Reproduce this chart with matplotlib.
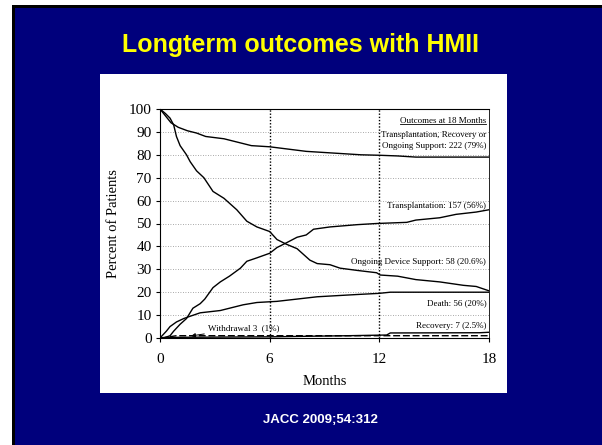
import matplotlib
matplotlib.use("Agg")
import matplotlib.pyplot as plt
from matplotlib.patches import Rectangle
from matplotlib.lines import Line2D

W, H = 602, 445

# outcome curves (months, percent of patients)
support_x = [0, 0.3, 0.6, 1.0, 1.5, 2.0, 2.5, 3.0, 3.5, 4.0, 4.5, 5.0, 6.0, 6.5,
             7.0, 8.0, 9.0, 10.0, 11.0, 12.0, 13.0, 14.0, 15.0, 18.0]
support_y = [100, 97, 94, 92, 90.5, 89.5, 88, 87.5, 87, 86, 85, 84, 83.5, 83,
             82.5, 81.5, 81, 80.5, 80, 79.8, 79.5, 79, 79, 79]

ongoing_x = [0, 0.3, 0.55, 0.75, 0.9, 1.1, 1.45, 1.65, 2.0, 2.4, 2.9, 3.5, 4.2,
             4.75, 5.3, 6.0, 6.4, 6.9, 7.5, 8.2, 8.6, 9.3, 9.85, 10.8, 11.85,
             12.05, 13.0, 14.0, 15.3, 16.6, 17.3, 18.0]
ongoing_y = [100, 98, 96, 93, 88, 84, 80, 77, 73, 70, 64, 61, 56, 51, 48.5, 46.5,
             43, 41, 39, 34, 32.5, 32, 30.5, 29.5, 28.5, 27.5, 27, 25.5, 24.5, 23,
             22.5, 20.6]

transplant_x = [0, 0.2, 0.55, 0.75, 1.1, 1.45, 1.8, 2.2, 2.45, 2.9, 3.3, 3.8, 4.4,
                4.75, 5.3, 6.0, 6.4, 6.9, 7.5, 8.0, 8.4, 9.3, 10.8, 11.85, 13.5,
                14.0, 15.3, 16.2, 17.3, 18.0]
transplant_y = [0, 0, 1, 3, 6, 8.5, 13, 15, 17, 22, 24.5, 27, 30.5, 33.5, 35, 37,
                39.5, 41.5, 44, 45, 47.5, 48.5, 49.5, 50, 50.5, 51.5, 52.5, 54, 55, 56]

death_x = [0, 0.35, 0.55, 0.9, 1.3, 1.65, 2.2, 2.75, 3.3, 3.8, 4.55, 5.3, 6.4,
           7.5, 8.6, 9.7, 10.8, 12.0, 12.6, 18.0]
death_y = [0, 3, 5, 7, 8.5, 9.5, 11, 11.5, 12, 13, 14.5, 15.5, 16, 17, 18, 18.5,
           19, 19.5, 20, 20]

recovery_x = [0, 1.0, 6.0, 8.4, 10.3, 12.4, 12.6, 17.5, 18.0]
recovery_y = [0, 0.3, 0.5, 0.8, 1.0, 1.3, 2.2, 2.3, 2.5]

withdrawal_x = [0, 0.5, 0.9, 18]
withdrawal_y = [0, 0.5, 1.0, 1.0]

x_ticks = [0, 6, 12, 18]
y_ticks = list(range(0, 101, 10))

# right-hand labels: (text, y position)
outcome_labels = [
    ("Transplantation, Recovery or", 88.5),
    ("Ongoing Support: 222 (79%)", 84.0),
    ("Transplantation: 157 (56%)", 57.8),
    ("Ongoing Device Support: 58 (20.6%)", 33.0),
    ("Death: 56 (20%)", 15.0),
    ("Recovery: 7 (2.5%)", 5.1),
]

NAVY = "#00007c"
SERIF = ["Liberation Serif", "DejaVu Serif"]
SANS = ["Liberation Sans", "DejaVu Sans"]


def px_rect(x0, y0, x1, y1, color):
    """Rectangle in pixel coords (top-left origin) -> figure fractions."""
    return Rectangle((x0 / W, 1 - y1 / H), (x1 - x0) / W, (y1 - y0) / H,
                     transform=fig.transFigure, facecolor=color,
                     edgecolor="none", zorder=-10)


fig = plt.figure(figsize=(W / 100, H / 100), dpi=100, facecolor="white")
fig.add_artist(px_rect(12, 5, W, H, "black"))
fig.add_artist(px_rect(15, 8, W, H, NAVY))
fig.add_artist(px_rect(100, 74, 507, 393, "white"))

fig.text(301 / W, 1 - 45 / H, "Longterm outcomes with HMII", color="#FFFF00",
         fontsize=18, fontweight="bold", family=SANS, ha="center", va="center")
fig.text(320 / W, 1 - 420 / H, "JACC 2009;54:312", color="white",
         fontsize=9.5, fontweight="bold", family=SANS, ha="center", va="center")

ax = fig.add_axes([160 / W, 1 - 338 / H, 329 / W, 229 / H])
ax.set_facecolor("white")

for yv in y_ticks[1:-1]:
    ax.axhline(yv, color="#8c8c8c", lw=0.6, ls=(0, (1, 2)), zorder=1)
for xv in (6, 12):
    ax.axvline(xv, color="black", lw=1.0, ls=(0, (1, 1.3)), zorder=1)

line_kw = dict(color="black", lw=1.0, zorder=3)
ax.plot(support_x, support_y, **line_kw)
ax.plot(ongoing_x, ongoing_y, **line_kw)
ax.plot(transplant_x, transplant_y, **line_kw)
ax.plot(death_x, death_y, **line_kw)
ax.plot(recovery_x, recovery_y, **line_kw)
ax.plot(withdrawal_x, withdrawal_y, color="black", lw=1.0, ls=(0, (5, 2)), zorder=3)

ax.set_xlim(0, 18)
ax.set_ylim(0, 100)
ax.set_xticks(x_ticks)
ax.set_yticks(y_ticks)
ax.tick_params(direction="out", length=3, width=0.8, labelsize=11, colors="black")
ax.tick_params(axis="x", pad=8)
ax.tick_params(axis="y", pad=3)
for lab in ax.get_xticklabels() + ax.get_yticklabels():
    lab.set_family(SERIF)
for sp in ax.spines.values():
    sp.set_linewidth(0.8)
ax.spines["right"].set_linewidth(0.6)

ax.set_xlabel("Months", fontsize=10.5, family=SERIF, labelpad=6)
ax.set_ylabel("Percent of Patients", fontsize=10.5, family=SERIF, labelpad=6)

txt_kw = dict(fontsize=6.5, family=SERIF, ha="right", va="center", zorder=4)
head = ax.text(17.85, 94.6, "Outcomes at 18 Months", **txt_kw)
for label, yv in outcome_labels:
    ax.text(17.85, yv, label, **txt_kw)

ax.annotate("Withdrawal 3  (1%)", xy=(1.7, 0.9), xytext=(2.65, 4.4),
            fontsize=6.5, family=SERIF, va="center", ha="left",
            arrowprops=dict(arrowstyle="-|>", color="black", lw=0.7,
                            mutation_scale=6, shrinkA=1, shrinkB=0))

# underline the header
fig.canvas.draw()
bb = head.get_window_extent()
inv = fig.transFigure.inverted()
(x0, y0), (x1, _) = inv.transform([(bb.x0, bb.y0 + 1), (bb.x1, bb.y0 + 1)])
fig.add_artist(Line2D([x0, x1], [y0, y0], transform=fig.transFigure,
                      color="black", lw=0.6))

fig.savefig("out.png", dpi=100, facecolor="white")
